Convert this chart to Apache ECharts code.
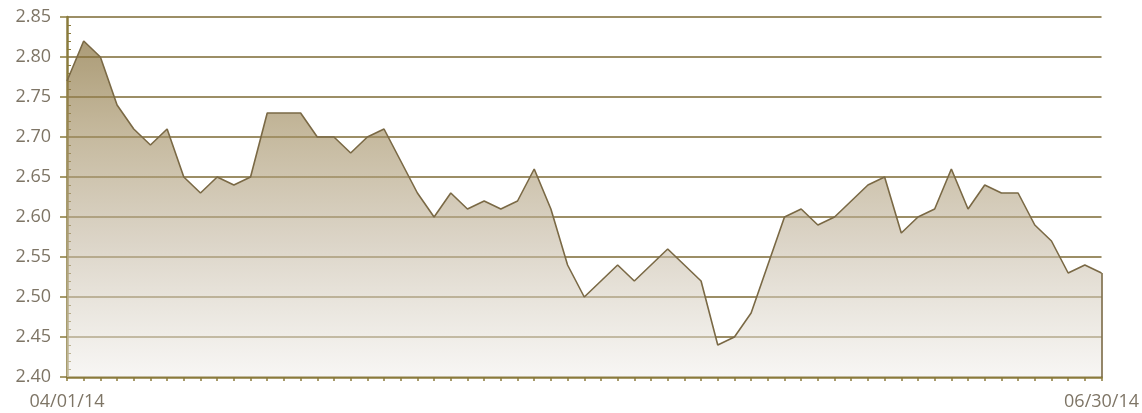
<!DOCTYPE html>
<html>
<head>
<meta charset="utf-8">
<script src="https://cdn.jsdelivr.net/npm/echarts@6/dist/echarts.min.js"></script>
<style>
html,body{margin:0;padding:0;background:#fff;}
#chart{width:1142px;height:413px;}
</style>
</head>
<body>
<div id="chart"></div>
<script>
// Trading dates, 04/01/14 - 06/30/14
const dates = [
  '04/01/14','04/02/14','04/03/14','04/04/14','04/07/14','04/08/14','04/09/14','04/10/14','04/11/14',
  '04/14/14','04/15/14','04/16/14','04/17/14','04/21/14','04/22/14','04/23/14','04/24/14','04/25/14',
  '04/28/14','04/29/14','04/30/14',
  '05/01/14','05/02/14','05/05/14','05/06/14','05/07/14','05/08/14','05/09/14','05/12/14','05/13/14',
  '05/14/14','05/15/14','05/16/14','05/19/14','05/20/14','05/21/14','05/22/14','05/23/14','05/27/14',
  '05/28/14','05/29/14','05/30/14',
  '06/02/14','06/03/14','06/04/14','06/05/14','06/06/14','06/09/14','06/10/14','06/11/14','06/12/14',
  '06/13/14','06/16/14','06/17/14','06/18/14','06/19/14','06/20/14','06/23/14','06/24/14','06/25/14',
  '06/26/14','06/27/14','06/30/14'
];
const values = [
  2.77, 2.82, 2.80, 2.74, 2.71, 2.69, 2.71, 2.65, 2.63, 2.65, 2.64, 2.65, 2.73, 2.73, 2.73, 2.70,
  2.70, 2.68, 2.70, 2.71, 2.67, 2.63, 2.60, 2.63, 2.61, 2.62, 2.61, 2.62, 2.66, 2.61, 2.54, 2.50,
  2.52, 2.54, 2.52, 2.54, 2.56, 2.54, 2.52, 2.44, 2.45, 2.48, 2.54, 2.60, 2.61, 2.59, 2.60, 2.62,
  2.64, 2.65, 2.58, 2.60, 2.61, 2.66, 2.61, 2.64, 2.63, 2.63, 2.59, 2.57, 2.53, 2.54, 2.53
];
const yMin = 2.40, yMax = 2.85, yStep = 0.05;

const axisColor = '#8a7b3c';
const labelColor = '#7e7566';
const labelFont = { fontFamily: 'Open Sans', fontSize: 18, color: labelColor };

const chart = echarts.init(document.getElementById('chart'), null, { renderer: 'canvas' });
const lastIdx = dates.length - 1;
chart.setOption({
  animation: false,
  backgroundColor: '#ffffff',
  grid: { left: 67, right: 40, top: 17, bottom: 36, containLabel: false },
  xAxis: {
    type: 'category',
    data: dates,
    boundaryGap: false,
    axisLine: { show: true, lineStyle: { color: axisColor, width: 2.5 } },
    axisTick: { show: true, interval: 0, length: 4, lineStyle: { color: axisColor, width: 1.5 } },
    axisLabel: Object.assign({
      interval: 0,
      margin: 16,
      showMinLabel: true,
      showMaxLabel: true,
      formatter: function (v, i) { return (i === 0 || i === lastIdx) ? v : ''; }
    }, labelFont),
    splitLine: { show: false }
  },
  yAxis: [{
    type: 'value',
    min: yMin, max: yMax, interval: yStep,
    axisLine: { show: true, lineStyle: { color: axisColor, width: 2.5 } },
    axisTick: { show: true, length: 7, lineStyle: { color: axisColor, width: 1.5 } },
    axisLabel: Object.assign({ margin: 16, formatter: function (v) { return v.toFixed(2); } }, labelFont),
    splitLine: { show: true, lineStyle: { color: '#9c8e66', width: 1.8 } }
  }, {
    type: 'value',
    position: 'left',
    min: yMin, max: yMax, interval: yStep,
    axisLine: { show: false },
    axisTick: { show: false, inside: true },
    minorTick: { show: true, splitNumber: 5, length: 4, lineStyle: { color: axisColor, width: 1 } },
    axisLabel: { show: false },
    splitLine: { show: false }
  }],
  series: [{
    type: 'line',
    data: values,
    yAxisIndex: 0,
    symbol: 'none',
    lineStyle: { color: '#7a6945', width: 1.6 },
    areaStyle: {
      origin: 'start',
      color: new echarts.graphic.LinearGradient(0, 0, 0, 1, [
        { offset: 0, color: 'rgba(130,106,52,0.95)' },
        { offset: 0.08, color: 'rgba(138,115,62,0.93)' },
        { offset: 0.25, color: 'rgba(160,140,95,0.9)' },
        { offset: 0.6, color: 'rgba(196,184,162,0.85)' },
        { offset: 1, color: 'rgba(240,238,234,0.75)' }
      ])
    },
    markLine: {
      silent: true,
      symbol: 'none',
      label: { show: false },
      lineStyle: { color: '#7a6945', width: 1.6, type: 'solid' },
      data: [[
        { coord: [lastIdx, yMin] },
        { coord: [lastIdx, values[lastIdx]] }
      ]]
    }
  }]
});
</script>
</body>
</html>
